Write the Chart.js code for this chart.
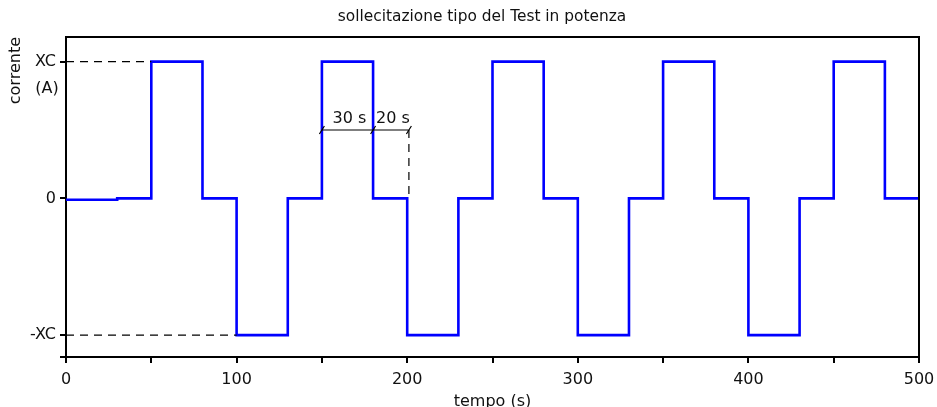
<!DOCTYPE html>
<html>
<head>
<meta charset="utf-8">
<script src="https://cdn.jsdelivr.net/npm/chart.js@4"></script>
<style>
  html, body { margin: 0; padding: 0; background: #fff; }
  #wrap { width: 937px; height: 407px; }
</style>
</head>
<body>
<div id="wrap"><canvas id="grafico" width="937" height="407"></canvas></div>
<script>
// Dati del segnale (istanti di commutazione e livelli, in unità di XC)
const tempi = [0, 30, 50, 80, 100, 130, 150, 180, 200, 230, 250, 280, 300, 330, 350, 380, 400, 430, 450, 480, 500];
const livelli = [-0.01, 0, 1, 0, -1, 0, 1, 0, -1, 0, 1, 0, -1, 0, 1, 0, -1, 0, 1, 0, 0];
const tickX = [0, 50, 100, 150, 200, 250, 300, 350, 400, 450, 500];
const tickY = [-1, 0, 1];
const etichetteY = { '-1': '-XC', '0': '0', '1': 'XC' };
// quote: 30 s (150-180) e 20 s (180-200)
const quote = [150, 180, 201];
const testiQuote = ['30 s', '20 s'];

const font = "'DejaVu Sans', sans-serif";

// Plugin per titolo, cornice, linee tratteggiate e quote
const annotazioni = {
    id: 'annotazioni',
    afterDatasetsDraw(chart) {
        const { ctx, chartArea: a, scales: { x, y } } = chart;
        ctx.save();
        // titolo
        ctx.fillStyle = '#111';
        ctx.font = "15.4px " + font;
        ctx.textAlign = 'center';
        ctx.textBaseline = 'middle';
        ctx.fillText('sollecitazione tipo del Test in potenza', 482, 17);

        // cornice superiore e destra
        ctx.strokeStyle = '#000';
        ctx.lineWidth = 2;
        ctx.beginPath();
        ctx.moveTo(a.left, a.top);
        ctx.lineTo(a.right, a.top);
        ctx.lineTo(a.right, a.bottom);
        ctx.stroke();

        // linee tratteggiate XC e -XC
        ctx.lineWidth = 1.2;
        ctx.setLineDash([8, 6]);
        ctx.beginPath();
        ctx.moveTo(a.left, y.getPixelForValue(1));
        ctx.lineTo(x.getPixelForValue(50), y.getPixelForValue(1));
        ctx.moveTo(a.left, y.getPixelForValue(-1));
        ctx.lineTo(x.getPixelForValue(100), y.getPixelForValue(-1));
        // verticale tratteggiata della quota
        ctx.moveTo(x.getPixelForValue(quote[2]), y.getPixelForValue(0.5));
        ctx.lineTo(x.getPixelForValue(quote[2]), y.getPixelForValue(0));
        ctx.stroke();
        ctx.setLineDash([]);

        // linea di quota
        const yq = y.getPixelForValue(0.5);
        ctx.lineWidth = 1.2;
        ctx.beginPath();
        ctx.moveTo(x.getPixelForValue(quote[0]), yq);
        ctx.lineTo(x.getPixelForValue(quote[2]), yq);
        quote.forEach(t => {
            const px = x.getPixelForValue(t);
            ctx.moveTo(px - 2.5, yq + 4);
            ctx.lineTo(px + 2.5, yq - 4);
        });
        ctx.stroke();

        ctx.font = "16px " + font;
        ctx.textBaseline = 'bottom';
        for (let i = 0; i < testiQuote.length; i++) {
            const cx = (x.getPixelForValue(quote[i]) + x.getPixelForValue(quote[i + 1])) / 2;
            ctx.fillText(testiQuote[i], cx + 2, yq - 3);
        }

        // unità di misura sull'asse y
        ctx.textBaseline = 'middle';
        ctx.fillText('(A)', 47, 89);
        ctx.restore();
    }
};

new Chart(document.getElementById('grafico'), {
    type: 'line',
    data: {
        datasets: [{
            data: tempi.map((t, i) => ({ x: t, y: livelli[i] })),
            borderColor: '#0000ff',
            borderWidth: 2.6,
            stepped: true,
            pointRadius: 0,
            fill: false
        }]
    },
    options: {
        responsive: false,
        animation: false,
        layout: { padding: { left: 0, right: 18, top: 37, bottom: 0 } },
        plugins: {
            legend: { display: false },
            tooltip: { enabled: false },
            title: { display: false }
        },
        scales: {
            x: {
                type: 'linear',
                min: 0,
                max: 500,
                afterBuildTicks: s => { s.ticks = tickX.map(v => ({ value: v })); },
                afterFit: s => { s.height = 50; s.paddingLeft = 0; s.paddingRight = 0; },
                ticks: {
                    color: '#111',
                    font: { family: font, size: 16 },
                    padding: 7,
                    maxRotation: 0,
                    autoSkip: false,
                    callback: v => (v % 100 === 0 ? String(v) : '')
                },
                grid: { drawOnChartArea: false, drawTicks: true, tickLength: 6, color: '#000', lineWidth: 2 },
                border: { display: true, color: '#000', width: 2 },
                title: {
                    display: true,
                    text: 'tempo (s)',
                    color: '#111',
                    font: { family: font, size: 16 },
                    padding: { top: 0, bottom: -4 }
                }
            },
            y: {
                type: 'linear',
                min: -1.16,
                max: 1.18,
                afterBuildTicks: s => { s.ticks = [{ value: -1.16 }].concat(tickY.map(v => ({ value: v }))); },
                afterFit: s => { s.width = 66; s.paddingTop = 0; s.paddingBottom = 0; },
                ticks: {
                    color: '#111',
                    font: { family: font, size: 16 },
                    padding: 4,
                    autoSkip: false,
                    callback: v => etichetteY[String(v)] || ''
                },
                grid: { drawOnChartArea: false, drawTicks: true, tickLength: 6, color: '#000', lineWidth: 2 },
                border: { display: true, color: '#000', width: 2 },
                title: {
                    display: true,
                    text: 'corrente',
                    align: 'end',
                    color: '#111',
                    font: { family: font, size: 16 },
                    padding: { top: 6, bottom: 0 }
                }
            }
        }
    },
    plugins: [annotazioni]
});
</script>
</body>
</html>
